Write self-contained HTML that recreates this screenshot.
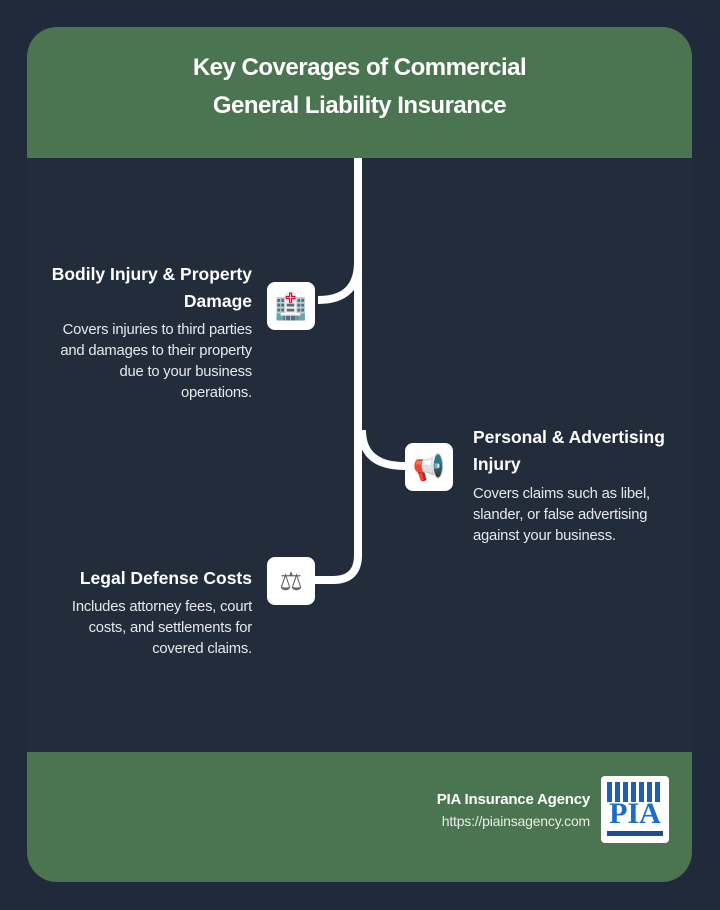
<!DOCTYPE html>
<html><head><style>
body{margin:0;width:720px;height:910px;background:#212a3a;font-family:"Liberation Sans",sans-serif;position:relative;overflow:hidden}
.card{position:absolute;left:27px;top:27px;width:665px;height:855px;background:#232c3b;border-radius:30px;overflow:hidden}
.hdr{position:absolute;left:0;top:0;width:665px;height:131px;background:#4a7550;color:#fff;font-weight:bold;font-size:24px;text-align:center;line-height:38px;padding-top:22px;box-sizing:border-box;letter-spacing:-0.5px}
.ftr{position:absolute;left:0;top:725px;width:665px;height:130px;background:#4a7550}
.t{position:absolute;color:#fff;font-weight:bold;font-size:17.5px;line-height:27px}
.b{position:absolute;color:#e6e8ec;font-size:14.8px;line-height:21px;letter-spacing:-0.2px}
.r{text-align:right}
.ic{position:absolute;width:48px;height:48px;background:#fff;border-radius:8px;display:flex;align-items:center;justify-content:center;font-size:26px}
</style></head><body>
<div class="card">
<div class="hdr">Key Coverages of Commercial<br>General Liability Insurance</div>
<div class="ftr"></div>
</div>
<svg style="position:absolute;left:0;top:0" width="720" height="910">
<path d="M358,158 V555 Q358,580 333,580 H312" stroke="#fff" stroke-width="8" fill="none"/>
<path d="M358,262 Q358,300 318,300" stroke="#fff" stroke-width="8" fill="none"/>
<path d="M362,430 Q362,466 405,466" stroke="#fff" stroke-width="8" fill="none"/>
</svg>
<div class="ic" style="left:267px;top:282px;color:#d33">🏥</div>
<div class="ic" style="left:405px;top:443px;color:#999">📢</div>
<div class="ic" style="left:267px;top:557px;color:#666">⚖</div>
<div class="t r" style="right:468px;top:261px;width:240px">Bodily Injury &amp; Property<br>Damage</div>
<div class="b r" style="right:468px;top:320px;width:240px">Covers injuries to third parties<br>and damages to their property<br>due to your business<br>operations.</div>
<div class="t" style="left:473px;top:424px">Personal &amp; Advertising<br>Injury</div>
<div class="b" style="left:473px;top:484px">Covers claims such as libel,<br>slander, or false advertising<br>against your business.</div>
<div class="t r" style="right:468px;top:565px;width:240px">Legal Defense Costs</div>
<div class="b r" style="right:468px;top:597px;width:240px">Includes attorney fees, court<br>costs, and settlements for<br>covered claims.</div>
<div class="b r" style="right:130px;top:789px;font-weight:bold;color:#fff;font-size:15px">PIA Insurance Agency</div>
<div class="b r" style="right:130px;top:811px;font-size:14px;color:#e8ece8">https://piainsagency.com</div>
<div style="position:absolute;left:601px;top:776px;width:68px;height:67px;background:#fff;border-radius:4px">
<div style="position:absolute;left:6px;top:6px;width:56px;height:20px;background:repeating-linear-gradient(90deg,#1d5fb0 0 5px,#fff 5px 8px)"></div>
<div style="position:absolute;left:4px;top:22px;width:60px;text-align:center;color:#1d6cc8;font:bold 30px 'Liberation Serif',serif;line-height:32px">PIA</div>
<div style="position:absolute;left:6px;top:55px;width:56px;height:5px;background:#1d4f90"></div>
</div>
</body></html>
